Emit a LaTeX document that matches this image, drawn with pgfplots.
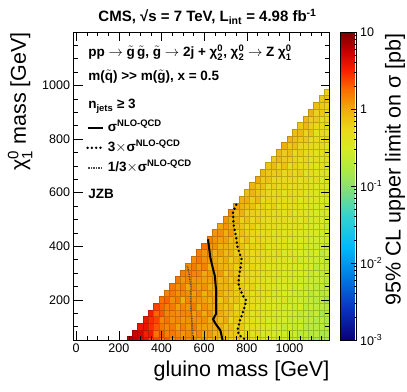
\documentclass[border=0pt]{standalone}
\usepackage{fontspec}
\setmainfont{Liberation Sans}
\usepackage{amsmath}
\usepackage{pgfplots}
\pgfplotsset{compat=1.18}

% ROOT-like rainbow palette, positions = 20*(log10 + 3)
\pgfplotsset{colormap={rootjet}{
  rgb255(0pt)=(10,0,120);
  rgb255(8pt)=(10,50,190);
  rgb255(16pt)=(0,120,225);
  rgb255(24pt)=(0,185,250);
  rgb255(32pt)=(50,210,210);
  rgb255(40pt)=(140,225,110);
  rgb255(45pt)=(180,235,60);
  rgb255(50pt)=(215,235,35);
  rgb255(55pt)=(235,215,25);
  rgb255(60pt)=(240,170,10);
  rgb255(65pt)=(250,110,0);
  rgb255(70pt)=(250,30,0);
  rgb255(75pt)=(200,0,0);
  rgb255(80pt)=(120,0,0)
}}

\newcommand\fs[1]{\fontsize{#1}{#1}\selectfont}
\newcommand\gl{$\tilde{\text{g}}$}
\newcommand\chiz[1]{χ$^{\text{0}}_{\text{#1}}$}
\newcommand\snlo{σ$^{\text{NLO-QCD}}$}

\begin{document}
\begin{tikzpicture}
\useasboundingbox (-73.5pt,-51pt) rectangle (333.5pt,340pt);
\begin{axis}[
  scale only axis, width=256pt, height=308pt,
  xmin=-12.5, xmax=1187.5, ymin=50, ymax=1200,
  xtick={0,200,...,1000}, ytick={200,400,...,1000},
  minor xtick={0,50,...,1150}, minor ytick={50,100,...,1200},
  tick align=inside, major tick length=9pt, minor tick length=4.5pt,
  tick style={black, line width=0.6pt},
  axis line style={line width=0.8pt},
  tick label style={font=\fs{12.5}},
  /pgf/number format/assume math mode=true,
  /pgf/number format/1000 sep={},
  axis on top,
  clip marker paths=true,
  colormap name=rootjet,
  point meta min=-3, point meta max=1,
  colorbar,
  colorbar style={
    at={(parent axis.north east)}, anchor=north west, xshift=2.5pt,
    width=16pt,
    ytick={-3,-2,-1,0,1},
    yticklabels={10$^{\text{-3}}$,10$^{\text{-2}}$,10$^{\text{-1}}$,1,10},
    minor ytick={-2.699,-2.523,-2.398,-2.301,-2.222,-2.155,-2.097,-2.046,
      -1.699,-1.523,-1.398,-1.301,-1.222,-1.155,-1.097,-1.046,
      -0.699,-0.523,-0.398,-0.301,-0.222,-0.155,-0.097,-0.046,
      0.301,0.477,0.602,0.699,0.778,0.845,0.903,0.954},
    tick align=inside, ytick pos=right,
    major tick length=6pt, minor tick length=3pt,
    yticklabel style={font=\fs{12.5}},
    axis line style={line width=0.6pt},
  },
  legend style={at={(axis description cs:0.049,0.722)}, anchor=north west,
    draw=none, fill=none, inner sep=0pt, row sep=0pt, column sep=2pt,
    font=\bfseries\fs{13.5},
    nodes={inner sep=2pt, text height=12pt, text depth=4pt}},
  legend cell align=left,
  legend image code/.code={\draw[#1] (0pt,0pt) -- (15pt,0pt);},
]

% 95% CL upper limit on sigma [pb], cell centres (gluino mass, chi1 mass)
\addplot[scatter, only marks, mark=square*, mark size=2.67pt,
  mark options={yscale=1.2555, line width=0.3pt},
  point meta={log10(\thisrow{v})}, forget plot]
  table[row sep=\\] {
x y v\\
250 50 6.3\\
275 50 6.0\\ 275 75 5.3\\
300 50 4.6\\ 300 75 5.0\\ 300 100 3.6\\
325 50 4.0\\ 325 75 3.2\\ 325 100 3.8\\ 325 125 3.6\\
350 50 2.5\\ 350 75 3.5\\ 350 100 2.8\\ 350 125 2.8\\ 350 150 3.2\\
375 50 2.4\\ 375 75 1.7\\ 375 100 2.1\\ 375 125 2.4\\ 375 150 1.9\\ 375 175 2.4\\
400 50 1.7\\ 400 75 2.1\\ 400 100 1.7\\ 400 125 1.4\\ 400 150 2.1\\ 400 175 1.9\\ 400 200 1.7\\
425 50 2.1\\ 425 75 1.5\\ 425 100 1.4\\ 425 125 1.7\\ 425 150 1.4\\ 425 175 1.5\\ 425 200 1.9\\ 425 225 1.4\\
450 50 1.3\\ 450 75 1.6\\ 450 100 1.6\\ 450 125 1.3\\ 450 150 1.4\\ 450 175 1.6\\ 450 200 1.3\\ 450 225 1.6\\ 450 250 1.6\\
475 50 1.6\\ 475 75 1.4\\ 475 100 1.1\\ 475 125 1.4\\ 475 150 1.3\\ 475 175 1.1\\ 475 200 1.6\\ 475 225 1.3\\ 475 250 1.3\\ 475 275 1.6\\
500 50 1.4\\ 500 75 1.2\\ 500 100 1.5\\ 500 125 1.2\\ 500 150 1.4\\ 500 175 1.4\\ 500 200 0.94\\ 500 225 1.4\\ 500 250 1.5\\ 500 275 1.2\\ 500 300 1.5\\
525 50 1.4\\ 525 75 1.4\\ 525 100 1.2\\ 525 125 1.3\\ 525 150 1.4\\ 525 175 1.2\\ 525 200 1.4\\ 525 225 1.3\\ 525 250 1.0\\ 525 275 1.4\\ 525 300 1.4\\ 525 325 1.3\\
550 50 1.4\\ 550 75 1.1\\ 550 100 1.6\\ 550 125 1.3\\ 550 150 1.1\\ 550 175 1.6\\ 550 200 1.3\\ 550 225 1.1\\ 550 250 1.4\\ 550 275 1.2\\ 550 300 1.4\\ 550 325 1.6\\ 550 350 1.3\\
575 50 1.1\\ 575 75 1.4\\ 575 100 1.1\\ 575 125 1.2\\ 575 150 1.4\\ 575 175 0.97\\ 575 200 1.2\\ 575 225 1.4\\ 575 250 1.1\\ 575 275 1.2\\ 575 300 1.4\\ 575 325 1.2\\ 575 350 1.6\\ 575 375 1.5\\
600 50 1.3\\ 600 75 1.0\\ 600 100 1.1\\ 600 125 1.3\\ 600 150 1.0\\ 600 175 1.3\\ 600 200 1.1\\ 600 225 0.91\\ 600 250 1.3\\ 600 275 1.1\\ 600 300 1.0\\ 600 325 1.5\\ 600 350 1.3\\ 600 375 1.2\\ 600 400 1.7\\
625 50 0.83\\ 625 75 1.2\\ 625 100 1.05\\ 625 125 0.94\\ 625 150 1.3\\ 625 175 1.06\\ 625 200 0.95\\ 625 225 1.2\\ 625 250 0.95\\ 625 275 1.07\\ 625 300 1.2\\ 625 325 0.88\\ 625 350 1.16\\ 625 375 1.4\\ 625 400 1.17\\ 625 425 1.44\\
650 50 1.07\\ 650 75 0.86\\ 650 100 0.97\\ 650 125 1.09\\ 650 150 0.78\\ 650 175 0.98\\ 650 200 1.11\\ 650 225 0.89\\ 650 250 1.0\\ 650 275 1.13\\ 650 300 0.90\\ 650 325 1.14\\ 650 350 1.05\\ 650 375 0.88\\ 650 400 1.3\\ 650 425 1.25\\ 650 450 1.23\\
675 50 0.76\\ 675 75 0.86\\ 675 100 0.97\\ 675 125 0.78\\ 675 150 0.99\\ 675 175 0.89\\ 675 200 0.71\\ 675 225 1.0\\ 675 250 0.91\\ 675 275 0.82\\ 675 300 1.17\\ 675 325 0.94\\ 675 350 0.84\\ 675 375 1.09\\ 675 400 0.92\\ 675 425 1.09\\ 675 450 1.32\\ 675 475 1.03\\
700 50 0.85\\ 700 75 0.77\\ 700 100 0.69\\ 700 125 0.99\\ 700 150 0.79\\ 700 175 0.72\\ 700 200 0.91\\ 700 225 0.73\\ 700 250 0.83\\ 700 275 0.94\\ 700 300 0.68\\ 700 325 0.86\\ 700 350 0.98\\ 700 375 0.79\\ 700 400 0.91\\ 700 425 1.08\\ 700 450 0.91\\ 700 475 1.24\\ 700 500 1.23\\
725 50 0.60\\ 725 75 0.69\\ 725 100 0.78\\ 725 125 0.56\\ 725 150 0.71\\ 725 175 0.81\\ 725 200 0.65\\ 725 225 0.74\\ 725 250 0.85\\ 725 275 0.68\\ 725 300 0.87\\ 725 325 0.79\\ 725 350 0.63\\ 725 375 0.91\\ 725 400 0.82\\ 725 425 0.76\\ 725 450 1.14\\ 725 475 0.96\\ 725 500 0.93\\ 725 525 1.3\\
750 50 0.60\\ 750 75 0.69\\ 750 100 0.55\\ 750 125 0.70\\ 750 150 0.64\\ 750 175 0.51\\ 750 200 0.73\\ 750 225 0.66\\ 750 250 0.60\\ 750 275 0.86\\ 750 300 0.69\\ 750 325 0.63\\ 750 350 0.80\\ 750 375 0.64\\ 750 400 0.73\\ 750 425 0.83\\ 750 450 0.61\\ 750 475 0.82\\ 750 500 0.97\\ 750 525 0.84\\ 750 550 1.05\\
775 50 0.54\\ 775 75 0.49\\ 775 100 0.70\\ 775 125 0.56\\ 775 150 0.51\\ 775 175 0.65\\ 775 200 0.53\\ 775 225 0.60\\ 775 250 0.69\\ 775 275 0.49\\ 775 300 0.63\\ 775 325 0.72\\ 775 350 0.58\\ 775 375 0.66\\ 775 400 0.76\\ 775 425 0.61\\ 775 450 0.78\\ 775 475 0.72\\ 775 500 0.61\\ 775 525 0.92\\ 775 550 0.89\\ 775 575 0.89\\
800 50 0.48\\ 800 75 0.55\\ 800 100 0.39\\ 800 125 0.50\\ 800 150 0.58\\ 800 175 0.46\\ 800 200 0.53\\ 800 225 0.61\\ 800 250 0.49\\ 800 275 0.63\\ 800 300 0.57\\ 800 325 0.46\\ 800 350 0.66\\ 800 375 0.60\\ 800 400 0.54\\ 800 425 0.78\\ 800 450 0.63\\ 800 475 0.57\\ 800 500 0.75\\ 800 525 0.63\\ 800 550 0.76\\ 800 575 0.93\\ 800 600 0.73\\
825 50 0.49\\ 825 75 0.40\\ 825 100 0.51\\ 825 125 0.46\\ 825 150 0.37\\ 825 175 0.54\\ 825 200 0.49\\ 825 225 0.44\\ 825 250 0.64\\ 825 275 0.52\\ 825 300 0.47\\ 825 325 0.60\\ 825 350 0.49\\ 825 375 0.55\\ 825 400 0.63\\ 825 425 0.46\\ 825 450 0.59\\ 825 475 0.67\\ 825 500 0.54\\ 825 525 0.63\\ 825 550 0.76\\ 825 575 0.64\\ 825 600 0.88\\ 825 625 0.88\\
850 50 0.35\\ 850 75 0.51\\ 850 100 0.41\\ 850 125 0.38\\ 850 150 0.49\\ 850 175 0.39\\ 850 200 0.45\\ 850 225 0.52\\ 850 250 0.37\\ 850 275 0.48\\ 850 300 0.55\\ 850 325 0.45\\ 850 350 0.51\\ 850 375 0.58\\ 850 400 0.47\\ 850 425 0.61\\ 850 450 0.55\\ 850 475 0.45\\ 850 500 0.65\\ 850 525 0.59\\ 850 550 0.55\\ 850 575 0.83\\ 850 600 0.70\\ 850 625 0.69\\ 850 650 0.97\\
875 50 0.41\\ 875 75 0.29\\ 875 100 0.38\\ 875 125 0.43\\ 875 150 0.35\\ 875 175 0.41\\ 875 200 0.46\\ 875 225 0.38\\ 875 250 0.49\\ 875 275 0.44\\ 875 300 0.36\\ 875 325 0.52\\ 875 350 0.47\\ 875 375 0.43\\ 875 400 0.62\\ 875 425 0.50\\ 875 450 0.46\\ 875 475 0.59\\ 875 500 0.48\\ 875 525 0.55\\ 875 550 0.63\\ 875 575 0.47\\ 875 600 0.63\\ 875 625 0.76\\ 875 650 0.66\\ 875 675 0.83\\
900 50 0.30\\ 900 75 0.38\\ 900 100 0.35\\ 900 125 0.28\\ 900 150 0.41\\ 900 175 0.37\\ 900 200 0.34\\ 900 225 0.49\\ 900 250 0.40\\ 900 275 0.36\\ 900 300 0.47\\ 900 325 0.38\\ 900 350 0.44\\ 900 375 0.50\\ 900 400 0.36\\ 900 425 0.47\\ 900 450 0.54\\ 900 475 0.44\\ 900 500 0.50\\ 900 525 0.58\\ 900 550 0.47\\ 900 575 0.60\\ 900 600 0.56\\ 900 625 0.48\\ 900 650 0.72\\ 900 675 0.71\\ 900 700 0.71\\
925 50 0.38\\ 925 75 0.31\\ 925 100 0.28\\ 925 125 0.37\\ 925 150 0.30\\ 925 175 0.34\\ 925 200 0.39\\ 925 225 0.29\\ 925 250 0.37\\ 925 275 0.43\\ 925 300 0.35\\ 925 325 0.40\\ 925 350 0.46\\ 925 375 0.37\\ 925 400 0.48\\ 925 425 0.44\\ 925 450 0.36\\ 925 475 0.52\\ 925 500 0.48\\ 925 525 0.44\\ 925 550 0.63\\ 925 575 0.51\\ 925 600 0.47\\ 925 625 0.62\\ 925 650 0.53\\ 925 675 0.64\\ 925 700 0.79\\ 925 725 0.63\\
950 50 0.22\\ 950 75 0.29\\ 950 100 0.33\\ 950 125 0.27\\ 950 150 0.31\\ 950 175 0.36\\ 950 200 0.30\\ 950 225 0.38\\ 950 250 0.35\\ 950 275 0.29\\ 950 300 0.42\\ 950 325 0.38\\ 950 350 0.35\\ 950 375 0.51\\ 950 400 0.41\\ 950 425 0.38\\ 950 450 0.49\\ 950 475 0.40\\ 950 500 0.46\\ 950 525 0.53\\ 950 550 0.39\\ 950 575 0.50\\ 950 600 0.58\\ 950 625 0.47\\ 950 650 0.56\\ 950 675 0.68\\ 950 700 0.58\\ 950 725 0.80\\ 950 750 0.81\\
975 50 0.30\\ 975 75 0.27\\ 975 100 0.22\\ 975 125 0.32\\ 975 150 0.30\\ 975 175 0.27\\ 975 200 0.40\\ 975 225 0.32\\ 975 250 0.30\\ 975 275 0.39\\ 975 300 0.32\\ 975 325 0.37\\ 975 350 0.42\\ 975 375 0.31\\ 975 400 0.40\\ 975 425 0.46\\ 975 450 0.38\\ 975 475 0.44\\ 975 500 0.51\\ 975 525 0.41\\ 975 550 0.54\\ 975 575 0.49\\ 975 600 0.40\\ 975 625 0.59\\ 975 650 0.54\\ 975 675 0.51\\ 975 700 0.77\\ 975 725 0.66\\ 975 750 0.65\\ 975 775 0.93\\
1000 50 0.25\\ 1000 75 0.23\\ 1000 100 0.29\\ 1000 125 0.24\\ 1000 150 0.28\\ 1000 175 0.32\\ 1000 200 0.24\\ 1000 225 0.31\\ 1000 250 0.36\\ 1000 275 0.29\\ 1000 300 0.34\\ 1000 325 0.39\\ 1000 350 0.32\\ 1000 375 0.42\\ 1000 400 0.39\\ 1000 425 0.32\\ 1000 450 0.46\\ 1000 475 0.42\\ 1000 500 0.39\\ 1000 525 0.57\\ 1000 550 0.47\\ 1000 575 0.43\\ 1000 600 0.56\\ 1000 625 0.46\\ 1000 650 0.53\\ 1000 675 0.62\\ 1000 700 0.46\\ 1000 725 0.63\\ 1000 750 0.76\\ 1000 775 0.67\\ 1000 800 0.85\\
1025 50 0.23\\ 1025 75 0.27\\ 1025 100 0.22\\ 1025 125 0.25\\ 1025 150 0.29\\ 1025 175 0.24\\ 1025 200 0.31\\ 1025 225 0.29\\ 1025 250 0.24\\ 1025 275 0.35\\ 1025 300 0.32\\ 1025 325 0.29\\ 1025 350 0.43\\ 1025 375 0.35\\ 1025 400 0.33\\ 1025 425 0.42\\ 1025 450 0.35\\ 1025 475 0.40\\ 1025 500 0.47\\ 1025 525 0.34\\ 1025 550 0.45\\ 1025 575 0.52\\ 1025 600 0.43\\ 1025 625 0.49\\ 1025 650 0.57\\ 1025 675 0.47\\ 1025 700 0.61\\ 1025 725 0.58\\ 1025 750 0.50\\ 1025 775 0.76\\ 1025 800 0.75\\ 1025 825 0.76\\
1050 50 0.21\\ 1050 75 0.18\\ 1050 100 0.26\\ 1050 125 0.24\\ 1050 150 0.22\\ 1050 175 0.32\\ 1050 200 0.26\\ 1050 225 0.24\\ 1050 250 0.32\\ 1050 275 0.26\\ 1050 300 0.30\\ 1050 325 0.35\\ 1050 350 0.26\\ 1050 375 0.33\\ 1050 400 0.39\\ 1050 425 0.32\\ 1050 450 0.37\\ 1050 475 0.43\\ 1050 500 0.35\\ 1050 525 0.46\\ 1050 550 0.43\\ 1050 575 0.35\\ 1050 600 0.51\\ 1050 625 0.47\\ 1050 650 0.44\\ 1050 675 0.64\\ 1050 700 0.52\\ 1050 725 0.48\\ 1050 750 0.65\\ 1050 775 0.56\\ 1050 800 0.68\\ 1050 825 0.84\\ 1050 850 0.68\\
1075 50 0.18\\ 1075 75 0.23\\ 1075 100 0.19\\ 1075 125 0.22\\ 1075 150 0.26\\ 1075 175 0.19\\ 1075 200 0.25\\ 1075 225 0.29\\ 1075 250 0.23\\ 1075 275 0.27\\ 1075 300 0.32\\ 1075 325 0.26\\ 1075 350 0.34\\ 1075 375 0.31\\ 1075 400 0.26\\ 1075 425 0.38\\ 1075 450 0.35\\ 1075 475 0.32\\ 1075 500 0.47\\ 1075 525 0.38\\ 1075 550 0.35\\ 1075 575 0.46\\ 1075 600 0.38\\ 1075 625 0.44\\ 1075 650 0.51\\ 1075 675 0.38\\ 1075 700 0.49\\ 1075 725 0.57\\ 1075 750 0.47\\ 1075 775 0.56\\ 1075 800 0.68\\ 1075 825 0.58\\ 1075 850 0.81\\ 1075 875 0.82\\
1100 50 0.21\\ 1100 75 0.17\\ 1100 100 0.20\\ 1100 125 0.23\\ 1100 150 0.19\\ 1100 175 0.25\\ 1100 200 0.23\\ 1100 225 0.19\\ 1100 250 0.28\\ 1100 275 0.25\\ 1100 300 0.23\\ 1100 325 0.34\\ 1100 350 0.28\\ 1100 375 0.26\\ 1100 400 0.34\\ 1100 425 0.28\\ 1100 450 0.32\\ 1100 475 0.38\\ 1100 500 0.28\\ 1100 525 0.36\\ 1100 550 0.42\\ 1100 575 0.34\\ 1100 600 0.40\\ 1100 625 0.46\\ 1100 650 0.38\\ 1100 675 0.50\\ 1100 700 0.46\\ 1100 725 0.38\\ 1100 750 0.55\\ 1100 775 0.51\\ 1100 800 0.48\\ 1100 825 0.73\\ 1100 850 0.63\\ 1100 875 0.62\\ 1100 900 0.89\\
1125 50 0.14\\ 1125 75 0.20\\ 1125 100 0.19\\ 1125 125 0.17\\ 1125 150 0.25\\ 1125 175 0.21\\ 1125 200 0.19\\ 1125 225 0.25\\ 1125 250 0.20\\ 1125 275 0.24\\ 1125 300 0.28\\ 1125 325 0.20\\ 1125 350 0.26\\ 1125 375 0.31\\ 1125 400 0.25\\ 1125 425 0.29\\ 1125 450 0.34\\ 1125 475 0.28\\ 1125 500 0.36\\ 1125 525 0.33\\ 1125 550 0.28\\ 1125 575 0.40\\ 1125 600 0.37\\ 1125 625 0.34\\ 1125 650 0.50\\ 1125 675 0.41\\ 1125 700 0.38\\ 1125 725 0.50\\ 1125 750 0.41\\ 1125 775 0.47\\ 1125 800 0.55\\ 1125 825 0.41\\ 1125 850 0.56\\ 1125 875 0.68\\ 1125 900 0.60\\ 1125 925 0.77\\
1150 50 0.19\\ 1150 75 0.15\\ 1150 100 0.18\\ 1150 125 0.21\\ 1150 150 0.15\\ 1150 175 0.20\\ 1150 200 0.23\\ 1150 225 0.19\\ 1150 250 0.22\\ 1150 275 0.25\\ 1150 300 0.21\\ 1150 325 0.27\\ 1150 350 0.25\\ 1150 375 0.21\\ 1150 400 0.30\\ 1150 425 0.28\\ 1150 450 0.26\\ 1150 475 0.38\\ 1150 500 0.31\\ 1150 525 0.29\\ 1150 550 0.37\\ 1150 575 0.31\\ 1150 600 0.35\\ 1150 625 0.41\\ 1150 650 0.30\\ 1150 675 0.39\\ 1150 700 0.46\\ 1150 725 0.38\\ 1150 750 0.44\\ 1150 775 0.51\\ 1150 800 0.42\\ 1150 825 0.54\\ 1150 850 0.51\\ 1150 875 0.44\\ 1150 900 0.68\\ 1150 925 0.67\\ 1150 950 0.68\\
1175 50 0.14\\ 1175 75 0.16\\ 1175 100 0.19\\ 1175 125 0.16\\ 1175 150 0.20\\ 1175 175 0.19\\ 1175 200 0.15\\ 1175 225 0.23\\ 1175 250 0.21\\ 1175 275 0.19\\ 1175 300 0.28\\ 1175 325 0.23\\ 1175 350 0.21\\ 1175 375 0.28\\ 1175 400 0.23\\ 1175 425 0.27\\ 1175 450 0.31\\ 1175 475 0.23\\ 1175 500 0.30\\ 1175 525 0.34\\ 1175 550 0.28\\ 1175 575 0.33\\ 1175 600 0.38\\ 1175 625 0.31\\ 1175 650 0.41\\ 1175 675 0.38\\ 1175 700 0.31\\ 1175 725 0.45\\ 1175 750 0.42\\ 1175 775 0.38\\ 1175 800 0.56\\ 1175 825 0.46\\ 1175 850 0.43\\ 1175 875 0.57\\ 1175 900 0.49\\ 1175 925 0.60\\ 1175 950 0.74\\ 1175 975 0.60\\
};

% exclusion contours
\addplot[black, line width=2pt] coordinates {
(618,426) (629,358) (640,320) (650,290) (656,234) (656,148) (642,128) (653,111) (676,86) (683,61) (686,50)};
\addlegendentry{\snlo}
\addplot[black, line width=2.7pt, dash pattern=on 0pt off 4.3pt, line cap=round] coordinates {
(750,555) (735,525) (738,480) (748,440) (757,395) (776,350) (770,320) (762,280) (762,250) (784,212) (798,197) (784,160) (768,123) (757,90) (762,70) (795,50)};
\addlegendentry{3$\times$\snlo}
\addplot[black!70, line width=1.5pt, dash pattern=on 0.8pt off 0.9pt] coordinates {
(521,327) (530,295) (537,250) (537,175) (542,130) (545,90) (548,50)};
\addlegendentry{1/3$\times$\snlo}

% texts inside the frame
\node[anchor=base west, font=\bfseries\fs{13.5}, inner sep=0pt] at (axis description cs:0.057,0.919)
  {pp $\rightarrow$ \gl\,\gl, \gl\ $\rightarrow$ 2j + \chiz{2}, \chiz{2} $\rightarrow$ Z \chiz{1}};
\node[anchor=base west, font=\bfseries\fs{13.5}, inner sep=0pt] at (axis description cs:0.057,0.841)
  {m($\tilde{\text{q}}$) >{}> m(\gl), x = 0.5};
\node[anchor=base west, font=\bfseries\fs{13.5}, inner sep=0pt] at (axis description cs:0.057,0.750)
  {n$_{\text{jets}}$ ≥ 3};
\node[anchor=base west, font=\bfseries\fs{13.5}, inner sep=0pt] at (axis description cs:0.057,0.461)
  {JZB};
\end{axis}

% texts outside the frame (axis frame spans 0..256pt x 0..308pt)
\node[anchor=base, font=\bfseries\fs{15}, inner sep=0pt] at (134pt,318.5pt)
  {CMS, √s = 7 TeV, L$_{\text{int}}$ = 4.98 fb$^{\text{-1}}$};
\node[anchor=base east, font=\fs{21.5}, inner sep=0pt] at (256pt,-36.7pt)
  {gluino mass [GeV]};
\node[anchor=base east, rotate=90, font=\fs{21.5}, inner sep=0pt] at (-47.5pt,308pt)
  {χ$^{\text{0}}_{\text{1}}$ mass [GeV]};
\node[anchor=base east, rotate=90, font=\fs{21.5}, inner sep=0pt] at (327pt,307pt)
  {95\% CL upper limit on σ [pb]};
\end{tikzpicture}
\end{document}
